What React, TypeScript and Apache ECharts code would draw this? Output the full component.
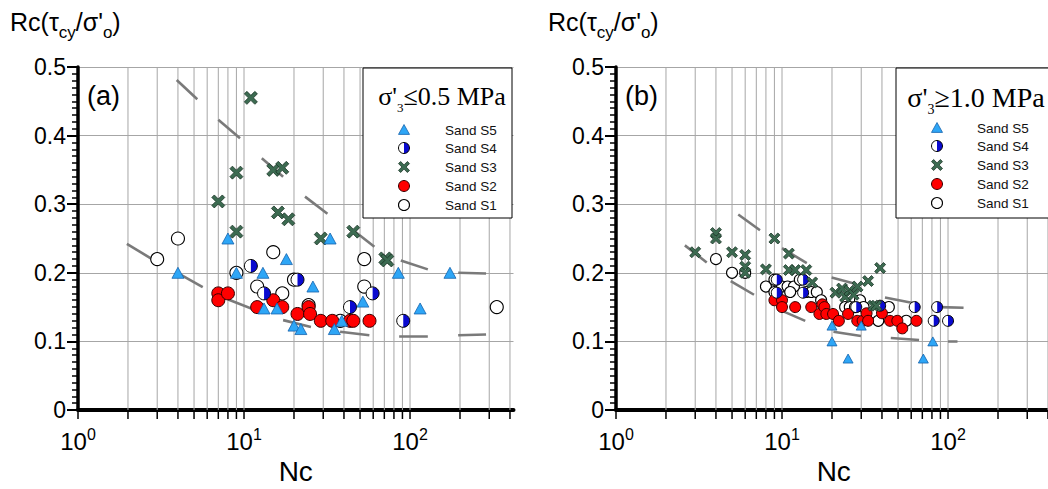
import React, { useEffect, useRef } from 'react';
import * as echarts from 'echarts';

// ---------- data ----------
// panel (a): sigma'3 <= 0.5 MPa
const S5_A = [[4, 0.2], [8, 0.25], [9, 0.2], [13, 0.2], [13.2, 0.148], [15.8, 0.148], [18, 0.22], [20, 0.123], [22, 0.118], [26, 0.18], [33, 0.25], [35, 0.118], [38.8, 0.13], [52, 0.158], [85, 0.2], [115, 0.148], [174, 0.2]];
const S4_A = [[11, 0.21], [13.2, 0.17], [21, 0.19], [43.5, 0.15], [59.5, 0.17], [91, 0.13]];
const S3_A = [[7, 0.304], [9, 0.26], [9, 0.346], [11, 0.455], [15, 0.35], [17, 0.353], [16, 0.288], [18.5, 0.278], [29, 0.25], [45.5, 0.26], [71, 0.221], [73, 0.218]];
const S2_A = [[7, 0.17], [7, 0.16], [8, 0.17], [12, 0.15], [15, 0.16], [17, 0.15], [21, 0.14], [24.5, 0.15], [25, 0.14], [29, 0.13], [34, 0.13], [43.5, 0.13], [45.5, 0.13], [57, 0.13]];
const S1_A = [[3, 0.22], [4, 0.25], [9, 0.2], [12, 0.18], [15, 0.23], [17, 0.17], [20, 0.19], [24.5, 0.153], [38, 0.13], [53, 0.22], [53, 0.18], [333, 0.15]];

// panel (b): sigma'3 >= 1.0 MPa
const S5_B = [[20, 0.123], [20, 0.1], [25, 0.075], [30, 0.123], [71, 0.075], [81, 0.1]];
const S4_B = [[9.3, 0.19], [9.3, 0.171], [13.4, 0.19], [13.4, 0.171], [28, 0.15], [39, 0.152], [63, 0.15], [86, 0.15], [82, 0.13], [100, 0.13]];
const S3_B = [[3, 0.23], [4, 0.258], [4, 0.25], [5, 0.23], [6, 0.226], [6, 0.209], [6, 0.2], [8, 0.205], [9, 0.25], [11, 0.228], [11, 0.204], [12, 0.204], [14, 0.204], [15.2, 0.186], [21, 0.171], [23, 0.177], [24, 0.165], [25.5, 0.174], [27, 0.168], [28.5, 0.18], [33, 0.188], [35.5, 0.152], [37, 0.152], [39, 0.207]];
const S2_B = [[9, 0.16], [10, 0.16], [10, 0.15], [12, 0.15], [15, 0.15], [16.8, 0.14], [17.5, 0.154], [18, 0.15], [18.5, 0.14], [20.3, 0.14], [22, 0.13], [25, 0.14], [28.4, 0.13], [30.6, 0.13], [32.3, 0.141], [33, 0.13], [40, 0.141], [44.7, 0.13], [49.5, 0.13], [53, 0.119], [64.5, 0.13]];
const S1_B = [[4, 0.22], [5, 0.2], [6, 0.2], [8, 0.18], [9, 0.19], [9, 0.172], [10, 0.18], [10.8, 0.18], [11.8, 0.18], [11.2, 0.172], [12.8, 0.19], [14, 0.172], [15, 0.172], [16.2, 0.172], [17.2, 0.16], [24, 0.15], [25.6, 0.15], [27.5, 0.15], [29.5, 0.16], [31, 0.15], [38, 0.13], [44, 0.15], [56, 0.13]];

// dashed boundary curves (visible dash pieces)
const CURVE_A_UPPER = [[[3.93, 0.481], [5.23, 0.453]], [[7.0, 0.423], [9.46, 0.396]], [[12.8, 0.367], [17.2, 0.34]], [[23.3, 0.311], [31.8, 0.286]], [[45.5, 0.262], [61, 0.238]], [[88, 0.218], [128, 0.205]], [[195, 0.2], [287, 0.199]]];
const CURVE_A_LOWER = [[[1.97, 0.242], [2.84, 0.219]], [[4.02, 0.199], [5.64, 0.179]], [[8.04, 0.161], [11.9, 0.145]], [[17.2, 0.131], [25.3, 0.121]], [[37.9, 0.114], [56.9, 0.109]], [[86, 0.108], [128, 0.108]], [[195, 0.109], [287, 0.11]]];
const CURVE_B_UPPER = [[[5.45, 0.285], [7.37, 0.262]], [[10, 0.236], [14.1, 0.214]], [[19.9, 0.193], [27.5, 0.184]], [[41.7, 0.164], [64.8, 0.155]], [[89.5, 0.15], [124, 0.149]]];
const CURVE_B_LOWER = [[[2.6, 0.24], [3.52, 0.215]], [[4.91, 0.188], [6.78, 0.168]], [[9.7, 0.146], [13.8, 0.13]], [[20.4, 0.114], [29.9, 0.108]], [[45.2, 0.105], [66.9, 0.102]], [[100, 0.1], [114, 0.1]]];

// axes
const X_MIN = 1;
const X_MAX = 420;
const X_TICKS = [1, 2, 3, 4, 5, 6, 7, 8, 9, 10, 20, 30, 40, 50, 60, 70, 80, 90, 100, 200, 300, 400];
const Y_MIN = 0;
const Y_MAX = 0.5;
const Y_STEP = 0.1;
const LEGEND_NAMES = ['Sand S5', 'Sand S4', 'Sand S3', 'Sand S2', 'Sand S1'];

// ---------- styles ----------
const SANS = 'Liberation Sans, Arial, sans-serif';
const SERIF = 'Liberation Serif, Times New Roman, serif';
const C_TRI = '#2ea6f6';
const C_TRI_B = '#1563ad';
const C_BLUE = '#0a0ad0';
const C_RED = '#ff0000';
const C_X = '#3c6b51';
const C_X_B = '#1a3326';
const X_PTS = [[0, 2.5], [2.5, 0], [6.5, 4], [10.5, 0], [13, 2.5], [9, 6.5], [13, 10.5], [10.5, 13], [6.5, 9], [2.5, 13], [0, 10.5], [4, 6.5]];
const X_PATH = 'path://M' + X_PTS.map((p) => p.join(',')).join('L') + 'Z';

function gridSeries(i: number) {
  return {
    type: 'custom',
    xAxisIndex: i,
    yAxisIndex: i,
    data: X_TICKS.map((v) => [v, Y_MIN]),
    z: 1,
    silent: true,
    clip: false,
    renderItem: (params: any, api: any) => {
      const v = api.value(0);
      const b = api.coord([v, Y_MIN]);
      const t = api.coord([v, Y_MAX]);
      const children: any[] = [
        { type: 'line', shape: { x1: b[0], y1: b[1], x2: b[0], y2: b[1] + 9 }, style: { stroke: '#000', lineWidth: 1.5 } },
      ];
      if (v !== 1) {
        children.push({ type: 'line', shape: { x1: b[0], y1: t[1], x2: b[0], y2: b[1] }, style: { stroke: '#a6a6a6', lineWidth: 1 } });
      }
      return { type: 'group', children };
    },
  };
}

function halfSeries(i: number, data: number[][], r: number) {
  return {
    type: 'custom',
    name: 'Sand S4',
    xAxisIndex: i,
    yAxisIndex: i,
    data,
    z: 6,
    renderItem: (params: any, api: any) => {
      const p = api.coord([api.value(0), api.value(1)]);
      return {
        type: 'group',
        children: [
          { type: 'circle', shape: { cx: p[0], cy: p[1], r }, style: { fill: '#fff' } },
          { type: 'sector', shape: { cx: p[0], cy: p[1], r0: 0, r, startAngle: -Math.PI / 2, endAngle: Math.PI / 2, clockwise: true }, style: { fill: C_BLUE } },
          { type: 'circle', shape: { cx: p[0], cy: p[1], r }, style: { fill: 'none', stroke: '#000', lineWidth: 1 } },
        ],
      };
    },
  };
}

function curveSeries(i: number, segs: number[][][]) {
  return {
    type: 'lines',
    coordinateSystem: 'cartesian2d',
    xAxisIndex: i,
    yAxisIndex: i,
    data: segs.map((s) => ({ coords: s })),
    lineStyle: { color: '#7a7a7a', width: 2.6, opacity: 1 },
    z: 3,
    silent: true,
  };
}

function scatter(i: number, name: string, data: number[][], symbol: string, size: any, color: string, border: string, bw: number, z: number) {
  return {
    type: 'scatter',
    name,
    xAxisIndex: i,
    yAxisIndex: i,
    data,
    symbol,
    symbolSize: size,
    z,
    itemStyle: { color, borderColor: border, borderWidth: bw, opacity: 1 },
  };
}

function legendGraphics(boxX: number, boxW: number, titleText: string, titleX: number, titleY: number, titleSize: number, symX: number, ys: number[], textX: number, s: number) {
  const els: any[] = [];
  els.push({ type: 'rect', shape: { x: boxX, y: 68, width: boxW, height: 150 }, style: { fill: '#fff', stroke: '#000', lineWidth: 1 }, z: 50 });
  els.push({
    type: 'text', x: titleX, y: titleY, z: 51,
    style: {
      text: titleText, align: 'center', verticalAlign: 'middle', fill: '#000',
      rich: {
        t: { fontFamily: SERIF, fontSize: titleSize, lineHeight: titleSize + 10, fill: '#000' },
        s: { fontFamily: SERIF, fontSize: titleSize * 0.5, lineHeight: titleSize * 0.5, verticalAlign: 'bottom', fill: '#000' },
      },
    },
  });
  const r = s / 2;
  els.push({ type: 'polygon', z: 51, shape: { points: [[symX, ys[0] - r], [symX + r, ys[0] + r * 0.8], [symX - r, ys[0] + r * 0.8]] }, style: { fill: C_TRI, stroke: C_TRI_B, lineWidth: 0.8 } });
  els.push({ type: 'circle', z: 51, shape: { cx: symX, cy: ys[1], r }, style: { fill: '#fff' } });
  els.push({ type: 'sector', z: 52, shape: { cx: symX, cy: ys[1], r0: 0, r, startAngle: -Math.PI / 2, endAngle: Math.PI / 2, clockwise: true }, style: { fill: C_BLUE } });
  els.push({ type: 'circle', z: 53, shape: { cx: symX, cy: ys[1], r }, style: { fill: 'none', stroke: '#000', lineWidth: 1 } });
  els.push({ type: 'polygon', z: 51, shape: { points: X_PTS.map((p) => [symX + (p[0] - 6.5) * s / 13, ys[2] + (p[1] - 6.5) * s / 13]) }, style: { fill: C_X, stroke: C_X_B, lineWidth: 0.8 } });
  els.push({ type: 'circle', z: 51, shape: { cx: symX, cy: ys[3], r }, style: { fill: C_RED, stroke: '#300', lineWidth: 1 } });
  els.push({ type: 'circle', z: 51, shape: { cx: symX, cy: ys[4], r }, style: { fill: '#fff', stroke: '#000', lineWidth: 1.1 } });
  LEGEND_NAMES.forEach((n, k) => {
    els.push({ type: 'text', z: 51, x: textX, y: ys[k], style: { text: n, fontFamily: SANS, fontSize: 13.5, fill: '#111', align: 'left', verticalAlign: 'middle' } });
  });
  return els;
}

function yTitle(x: number) {
  return {
    type: 'text', x, y: 3, z: 50,
    style: {
      text: "{m|Rc(τ}{s|cy}{m|/σ'}{s|o}{m|)}", align: 'left', verticalAlign: 'top',
      rich: {
        m: { fontFamily: SANS, fontSize: 25, lineHeight: 38, fill: '#000' },
        s: { fontFamily: SANS, fontSize: 17, lineHeight: 17, verticalAlign: 'bottom', fill: '#000' },
      },
    },
  };
}

function xAxisOpt(i: number) {
  return {
    gridIndex: i,
    type: 'log',
    logBase: 10,
    min: X_MIN,
    max: X_MAX,
    axisLine: { show: true, onZero: false, lineStyle: { color: '#000', width: 4 } },
    axisTick: { show: false },
    minorTick: { show: false },
    splitLine: { show: false },
    axisLabel: {
      margin: 16,
      color: '#000',
      formatter: (v: number) => {
        const e = Math.log10(v);
        return Math.abs(e - Math.round(e)) < 1e-6 ? `{b|10}{p|${Math.round(e)}}` : '';
      },
      rich: {
        b: { fontFamily: SANS, fontSize: 24, lineHeight: 30, color: '#000' },
        p: { fontFamily: SANS, fontSize: 16, lineHeight: 16, verticalAlign: 'top', color: '#000' },
      },
    },
    name: 'Nc',
    nameLocation: 'middle',
    nameGap: 47,
    nameTextStyle: { fontFamily: SANS, fontSize: 28, color: '#000' },
  };
}

function yAxisOpt(i: number) {
  return {
    gridIndex: i,
    type: 'value',
    min: Y_MIN,
    max: Y_MAX,
    interval: Y_STEP,
    axisLine: { show: true, onZero: false, lineStyle: { color: '#000', width: 3.5 } },
    axisTick: { show: true, length: 11, lineStyle: { color: '#000', width: 2 } },
    minorTick: { show: true, splitNumber: 10, length: 6, lineStyle: { color: '#000', width: 1.5 } },
    splitLine: { show: true, lineStyle: { color: '#a6a6a6', width: 1 } },
    axisLabel: {
      margin: 12,
      fontFamily: SANS,
      fontSize: 23,
      color: '#000',
      formatter: (v: number) => (v === 0 ? '0' : v.toFixed(1)),
    },
  };
}

function panelSeries(i: number, s5: number[][], s4: number[][], s3: number[][], s2: number[][], s1: number[][], up: number[][][], lo: number[][][], size: number) {
  return [
    gridSeries(i),
    curveSeries(i, up),
    curveSeries(i, lo),
    scatter(i, 'Sand S1', s1, 'circle', size, '#fff', '#000', 1.1, 4),
    scatter(i, 'Sand S2', s2, 'circle', size, C_RED, '#300', 1, 5),
    scatter(i, 'Sand S3', s3, X_PATH, size, C_X, C_X_B, 0.8, 6),
    halfSeries(i, s4, size / 2),
    scatter(i, 'Sand S5', s5, 'triangle', [size - 1, size - 2], C_TRI, C_TRI_B, 0.8, 7),
  ];
}

export default function App() {
  const ref = useRef<HTMLDivElement>(null);
  useEffect(() => {
    if (!ref.current) return;
    const chart = echarts.init(ref.current, undefined, { renderer: 'svg' });
    const option: any = {
      animation: false,
      backgroundColor: '#fff',
      grid: [
        { left: 78, top: 67, width: 435.5, height: 343, outerBoundsMode: 'none', containLabel: false },
        { left: 616, top: 67, width: 435.5, height: 343, outerBoundsMode: 'none', containLabel: false },
      ],
      xAxis: [xAxisOpt(0), xAxisOpt(1)],
      yAxis: [yAxisOpt(0), yAxisOpt(1)],
      series: [
        ...panelSeries(0, S5_A, S4_A, S3_A, S2_A, S1_A, CURVE_A_UPPER, CURVE_A_LOWER, 13),
        ...panelSeries(1, S5_B, S4_B, S3_B, S2_B, S1_B, CURVE_B_UPPER, CURVE_B_LOWER, 11),
      ],
      graphic: [
        yTitle(10),
        yTitle(548),
        { type: 'text', x: 87, y: 96, z: 50, style: { text: '(a)', fontFamily: SANS, fontSize: 27, fill: '#000', verticalAlign: 'middle' } },
        { type: 'text', x: 625, y: 96, z: 50, style: { text: '(b)', fontFamily: SANS, fontSize: 27, fill: '#000', verticalAlign: 'middle' } },
        ...legendGraphics(363, 149, "{t|σ'}{s|3}{t|≤0.5 MPa}", 442, 96, 26, 404, [130, 148, 167, 186, 205], 445, 11),
        ...legendGraphics(896, 170, "{t|σ'}{s|3}{t|≥1.0 MPa}", 976, 97, 28, 937, [128, 146, 165, 184, 203], 977, 11),
      ],
    };
    chart.setOption(option);
    return () => chart.dispose();
  }, []);
  return <div ref={ref} style={{ position: 'fixed', left: 0, top: 0, width: 1048, height: 489, background: '#fff' }} />;
}
